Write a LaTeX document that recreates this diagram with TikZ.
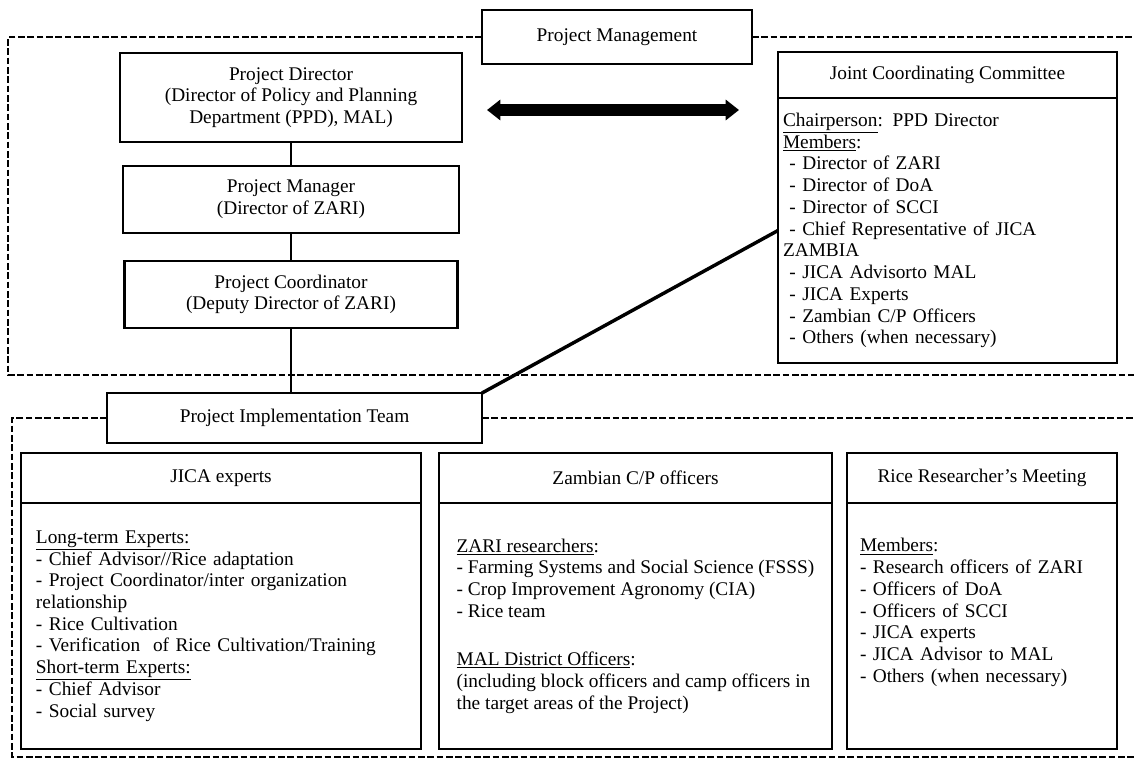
\documentclass[tikz,border=0pt]{standalone}
\usepackage{fontspec}
\setmainfont{Liberation Serif}
\usetikzlibrary{arrows.meta,positioning}

\begin{document}
\begin{tikzpicture}[x=0.75pt,y=-0.75pt,
  box/.style={draw,line width=2pt,inner sep=0pt,outer sep=0pt,align=center,
    font=\fontsize{14.5}{16.3}\selectfont},
  listbox/.style={draw,line width=2pt,inner xsep=11.25pt,inner ysep=0pt,outer sep=0pt,
    align=left,font=\fontsize{14.5}{16.3}\selectfont},
  zone/.style={line width=1.4pt,dash pattern=on 5pt off 2pt},
  link/.style={line width=2.2pt},
  fatarrow/.style={line width=9pt,{Triangle[length=10pt,width=15pt]}-{Triangle[length=10pt,width=15pt]}}]
\useasboundingbox (0,0) rectangle (1134,761);

% project management
\node[box,minimum width=202.5pt,minimum height=40.5pt] (pmgt) at (617,37) {Project Management};
\node[box,minimum width=256.5pt,minimum height=66.75pt] (pd) at (291,97.5)
  {Project Director\\(Director of Policy and Planning\\Department (PPD), MAL)};
\node[box,minimum width=252pt,minimum height=50.25pt] (pm) at (291,199.5)
  {Project Manager\\(Director of ZARI)};
\node[box,minimum width=249.75pt,minimum height=50.25pt] (pc) at (291,294.5)
  {Project Coordinator\\(Deputy Director of ZARI)};

\node[box,minimum width=254.25pt,minimum height=34.5pt] (jcch) at (947.5,75) {Joint Coordinating Committee};
\node[listbox,inner xsep=3.75pt,text width=246.75pt,minimum height=198.75pt,below=0pt of jcch] (jccb)
  {\underline{Chairperson}: PPD Director\\
   \underline{Members}:\\
   \ - Director of ZARI\\
   \ - Director of DoA\\
   \ - Director of SCCI\\
   \ - Chief Representative of JICA\\
   ZAMBIA\\
   \ - JICA Advisorto MAL\\
   \ - JICA Experts\\
   \ - Zambian C/P Officers\\
   \ - Others (when necessary)};

\coordinate (arl) at (487,110);
\coordinate (arr) at (739,110);
\draw[fatarrow] (arl) -- (arr);

\draw[zone] (pmgt.west) -- (8,37) |- (1134,375);
\draw[zone] (pmgt.east) -- (1134,37);

\draw[link] (pd) -- (pm);
\draw[link] (pm) -- (pc);

% implementation team
\node[box,minimum width=281.25pt,minimum height=37.5pt] (pit) at (294.5,418) {Project Implementation Team};
\draw[link] (pc.south) -- (pc.south |- pit.north);
\draw[link,line width=2.6pt] (jccb.west) -- (pit.north east);

\draw[zone] (pit.west) -- (12,418) |- (1134,757);
\draw[zone] (pit.east) -- (1134,418);

\node[box,minimum width=300pt,minimum height=37.5pt] (jicah) at (221,478) {JICA experts};
\node[listbox,text width=277.5pt,minimum height=184.5pt,below=0pt of jicah] (jicab)
  {\underline{Long-term Experts:}\\
   - Chief Advisor//Rice adaptation\\
   - Project Coordinator/inter organization\\
   relationship\\
   - Rice Cultivation\\
   - Verification\ \ of Rice Cultivation/Training\\
   \underline{Short-term Experts:}\\
   - Chief Advisor\\
   - Social survey};

\node[box,minimum width=294.75pt,minimum height=37.5pt] (cph) at (635.5,478) {Zambian C/P officers};
\node[listbox,minimum width=294.75pt,minimum height=184.5pt,below=0pt of cph] (cpb)
  {\underline{ZARI researchers}:\\
   - Farming Systems and Social Science (FSSS)\\
   - Crop Improvement Agronomy (CIA)\\
   - Rice team\\[20pt]
   \underline{MAL District Officers}:\\
   (including block officers and camp officers in\\
   the target areas of the Project)};

\node[box,minimum width=202.5pt,minimum height=37.5pt] (rrmh) at (982,478) {Rice Researcher's Meeting};
\node[listbox,inner xsep=9.75pt,text width=183pt,minimum height=184.5pt,below=0pt of rrmh] (rrmb)
  {\underline{Members}:\\
   - Research officers of ZARI\\
   - Officers of DoA\\
   - Officers of SCCI\\
   - JICA experts\\
   - JICA Advisor to MAL\\
   - Others (when necessary)\\[7pt]
   \mbox{}};
\end{tikzpicture}
\end{document}
